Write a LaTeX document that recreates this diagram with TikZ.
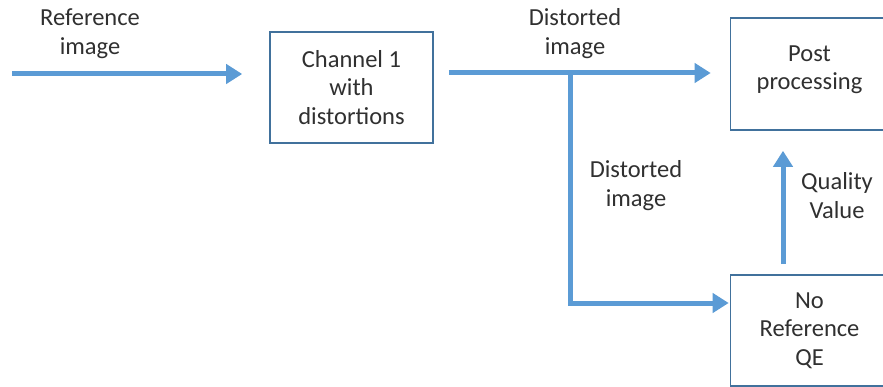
\documentclass[tikz,border=0pt]{standalone}
\usepackage{fontspec}
\setmainfont{Carlito}
\usetikzlibrary{arrows.meta}
\definecolor{arrowblue}{HTML}{5B9BD5}
\definecolor{boxblue}{HTML}{41719C}
\definecolor{txt}{HTML}{303030}
\begin{document}
\begin{tikzpicture}[x=1pt,y=-1pt,
  blk/.style={draw=boxblue,line width=1.6pt,fill=white,inner sep=0pt,align=center,text=txt,font=\fontsize{24.5}{28.5}\selectfont},
  lbl/.style={inner sep=0pt,align=center,text=txt,font=\fontsize{24.5}{29}\selectfont},
  flow/.style={draw=arrowblue,line width=5pt,-{Triangle[length=16pt,width=19pt]}}]
\useasboundingbox (0,0) rectangle (883,387);
\begin{scope}
\clip (0,0) rectangle (883,387);
\node[blk,minimum width=163pt,minimum height=111pt] (ch) at (351.5,87.5) {Channel 1\\with\\distortions};
\node[blk,minimum width=158pt,minimum height=112pt] (pp) at (809.5,74) {Post\\processing\\[-24pt]\strut};
\node[blk,minimum width=158pt,minimum height=111pt] (nr) at (809.5,330.5) {No\\Reference\\QE};
\end{scope}
\coordinate (start) at (12,74);
\coordinate (branch) at (570,73);
\coordinate (corner) at (570,303);
\node[lbl] (l1) at (90,34) {Reference\\image};
\node[lbl] (l2) at (575,34) {Distorted\\image};
\node[lbl] (l3) at (636,186) {Distorted\\image};
\node[lbl] (l4) at (837,196) {Quality\\Value};
\draw[flow] (start) -- ([xshift=-27pt]ch.west |- start);
\draw[flow] ([xshift=15pt]ch.east |- branch) -- ([xshift=-19pt]pp.west |- branch);
\draw[flow,line join=miter] (branch) -- (corner) -- ([xshift=-1pt]nr.west |- corner);
\draw[flow] ([yshift=10pt]nr.north -| 783,0) -- ([yshift=-20pt]pp.south -| 783,0);
\end{tikzpicture}
\end{document}
